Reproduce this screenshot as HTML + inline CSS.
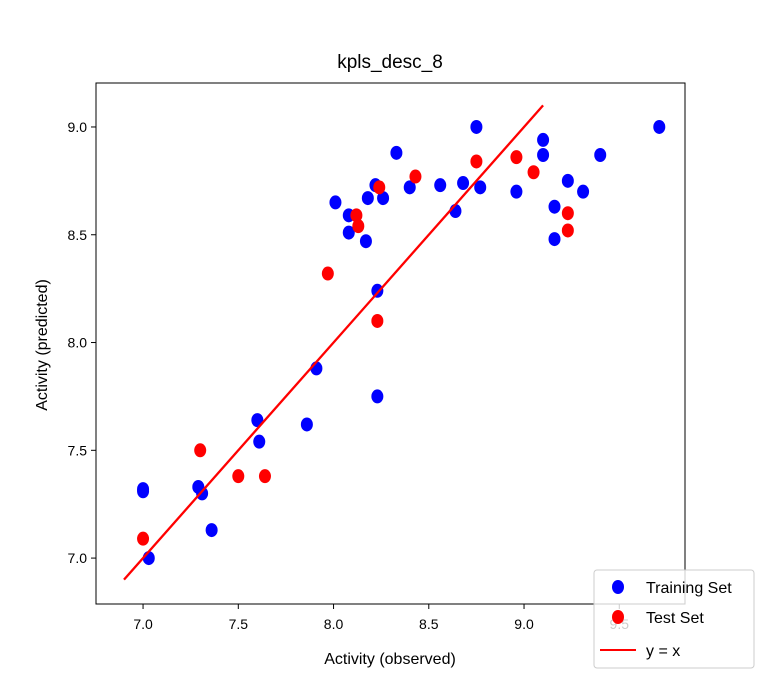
<!DOCTYPE html>
<html><head><meta charset="utf-8"><style>body{margin:0;background:#fff}svg{display:block;font-family:"Liberation Sans","DejaVu Sans",sans-serif}</style></head>
<body>
<svg id="c" width="762" height="680"></svg>
<script>
const trainX=[7.0,7.0,7.03,7.29,7.31,7.36,7.60,7.61,7.86,7.91,8.23,8.23,8.01,8.08,8.08,8.17,8.18,8.22,8.26,8.33,8.40,8.56,8.64,8.68,8.75,8.77,8.96,9.10,9.10,9.16,9.16,9.23,9.31,9.40,9.71];
const trainY=[7.32,7.31,7.0,7.33,7.30,7.13,7.64,7.54,7.62,7.88,7.75,8.24,8.65,8.59,8.51,8.47,8.67,8.73,8.67,8.88,8.72,8.73,8.61,8.74,9.0,8.72,8.70,8.94,8.87,8.63,8.48,8.75,8.70,8.87,9.0];
const testX=[7.0,7.30,7.50,7.64,7.97,8.12,8.13,8.24,8.23,8.43,8.75,8.96,9.05,9.23,9.23];
const testY=[7.09,7.50,7.38,7.38,8.32,8.59,8.54,8.72,8.10,8.77,8.84,8.86,8.79,8.60,8.52];
const xTicks=[7.0,7.5,8.0,8.5,9.0,9.5];
const yTicks=[7.0,7.5,8.0,8.5,9.0];
const lineXY=[6.9,9.1];
const L=96,R=685,T=83,B=604;
const sx=v=>L+(v-6.753)/(9.845-6.753)*(R-L);
const sy=v=>T+(9.204-v)/(9.204-6.787)*(B-T);
const svg=document.getElementById('c');
const NS='http://www.w3.org/2000/svg';
function mk(t,a,p){const e=document.createElementNS(NS,t);for(const k in a)e.setAttribute(k,a[k]);(p||svg).appendChild(e);return e;}
let e;
e=mk('rect',{x:L,y:T,width:R-L,height:B-T,fill:'#fff',stroke:'#000','stroke-width':1});


xTicks.forEach(v=>{const x=sx(v);
e=mk('line',{x1:x,x2:x,y1:B,y2:B+5,stroke:'#000'});


e=mk('text',{x:x,y:B+25,'text-anchor':'middle','font-size':14});e.textContent=v.toFixed(1);

});
yTicks.forEach(v=>{const y=sy(v);
e=mk('line',{x1:L-5,x2:L,y1:y,y2:y,stroke:'#000'});


e=mk('text',{x:L-9,y:y+5,'text-anchor':'end','font-size':14});e.textContent=v.toFixed(1);

});
trainX.forEach((v,i)=>{e=mk('ellipse',{cx:sx(v),cy:sy(trainY[i]),rx:6,ry:7,fill:'#0000ff'});

});
testX.forEach((v,i)=>{e=mk('ellipse',{cx:sx(v),cy:sy(testY[i]),rx:6,ry:7,fill:'#ff0000'});

});
e=mk('line',{x1:sx(lineXY[0]),y1:sy(lineXY[0]),x2:sx(lineXY[1]),y2:sy(lineXY[1]),stroke:'#ff0000','stroke-width':2.3});


e=mk('text',{x:390,y:68,'text-anchor':'middle','font-size':19});e.textContent='kpls_desc_8';


e=mk('text',{x:390,y:664,'text-anchor':'middle','font-size':16});e.textContent='Activity (observed)';


e=mk('text',{x:47,y:345,'text-anchor':'middle','font-size':16,transform:'rotate(-90 47 345)'});e.textContent='Activity (predicted)';


const g=mk('g',{});


mk('rect',{x:594,y:570,width:160,height:98,rx:3,fill:'#fff','fill-opacity':0.8,stroke:'#ccc'},g);
e=mk('ellipse',{cx:618,cy:587,rx:6,ry:7,fill:'#0000ff'},g);


e=mk('text',{x:646,y:593,'font-size':16},g);e.textContent='Training Set';


e=mk('ellipse',{cx:618,cy:617,rx:6,ry:7,fill:'#ff0000'},g);


e=mk('text',{x:646,y:623,'font-size':16},g);e.textContent='Test Set';


e=mk('line',{x1:600,x2:636,y1:650,y2:650,stroke:'#ff0000','stroke-width':2},g);


e=mk('text',{x:646,y:656,'font-size':16},g);e.textContent='y = x';


</script>
</body></html>
